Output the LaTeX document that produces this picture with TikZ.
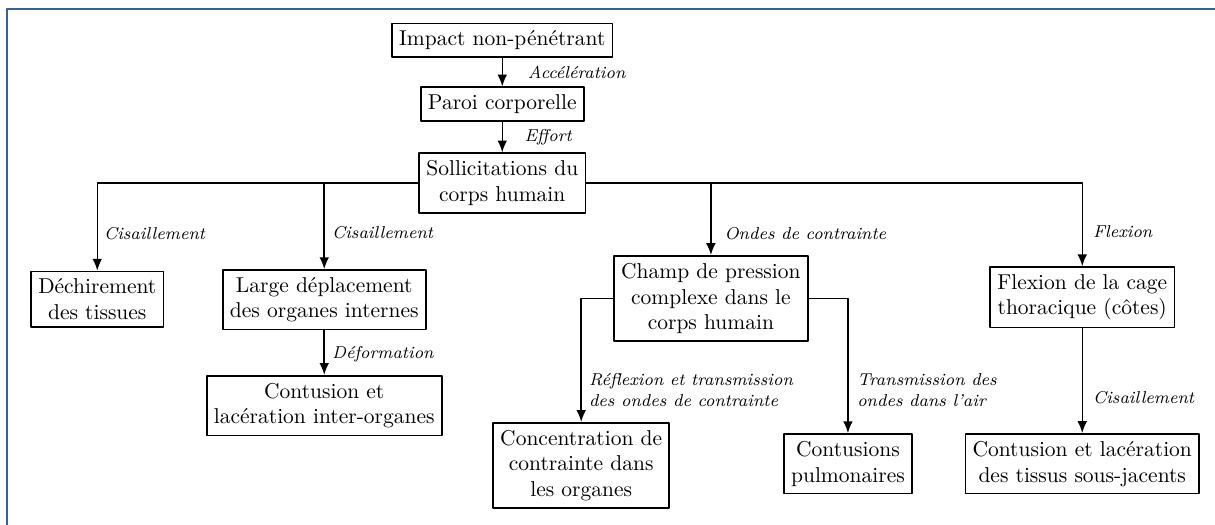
\documentclass[tikz,border=0pt]{standalone}
\usepackage{tikz}
\usetikzlibrary{arrows.meta,calc}
\definecolor{cadrebleu}{RGB}{58,96,150}
\tikzset{boite/.style={draw,line width=0.8pt,align=center,inner sep=0.333em},
  lien/.style={line width=0.7pt},
  etiq/.style={right,font=\footnotesize\itshape,inner sep=2pt,align=left}}

\begin{document}
\begin{tikzpicture}[>={Latex[length=5.5pt,width=4.5pt]},line join=round]
\useasboundingbox (0,0) rectangle (19.86,-8.58);
% --- cadre de la page
\draw[cadrebleu,line width=1pt] (0.12,-8.7) -- (0.12,-0.15) -- (20,-0.15);
% --- tronc commun
\node[boite] (impact) at (8.21,-0.66) {Impact non-pénétrant};
\node[boite] (paroi) at (8.21,-1.70) {Paroi corporelle};
\node[boite] (solli) at (8.21,-2.99) {Sollicitations du\\corps humain};
\draw[lien,->] (impact) -- node[etiq,xshift=9.6pt]{Accélération} (paroi);
\draw[lien,->] (paroi) -- node[etiq,xshift=8pt]{Effort} (solli);
% --- premier niveau
\node[boite] (dech) at (1.59,-4.89) {Déchirement\\des tissues};
\node[boite] (large) at (5.30,-4.90) {Large déplacement\\des organes internes};
\node[boite] (champ) at (11.62,-4.88) {Champ de pression\\complexe dans le\\corps humain};
\node[boite] (flex) at (17.69,-4.86) {Flexion de la cage\\thoracique (côtes)};
\draw[lien,->] (solli.west) -| node[etiq,pos=0.79,xshift=0.8pt]{Cisaillement} (dech);
\draw[lien,->] (solli.west) -| node[etiq,pos=0.79,xshift=1.3pt]{Cisaillement} (large);
\draw[lien,->] (solli.east) -| node[etiq,pos=0.85,xshift=4pt]{Ondes de contrainte} (champ);
\draw[lien,->] (solli.east) -| node[etiq,pos=0.795,xshift=2.7pt]{Flexion} (flex);
% --- second niveau
\node[boite] (inter) at (5.30,-6.63) {Contusion et\\lacération inter-organes};
\node[boite] (conc) at (9.50,-7.61) {Concentration de\\contrainte dans\\les organes};
\node[boite] (pulmo) at (13.86,-7.58) {Contusions\\pulmonaires};
\node[boite] (sousj) at (17.69,-7.58) {Contusion et lacération\\des tissus sous-jacents};
\draw[lien,->] (large) -- node[etiq,pos=0.53,xshift=1.3pt]{Déformation} (inter);
\draw[lien,->] (champ.west) -| node[etiq,pos=0.87,xshift=1.3pt]{Réflexion et transmission\\des ondes de contrainte} (conc);
\draw[lien,->] (champ.east) -| node[etiq,pos=0.84,xshift=2pt]{Transmission des\\ondes dans l'air} (pulmo);
\draw[lien,->] (flex) -- node[etiq,pos=0.66,xshift=2.7pt]{Cisaillement} (sousj);
\end{tikzpicture}
\end{document}
